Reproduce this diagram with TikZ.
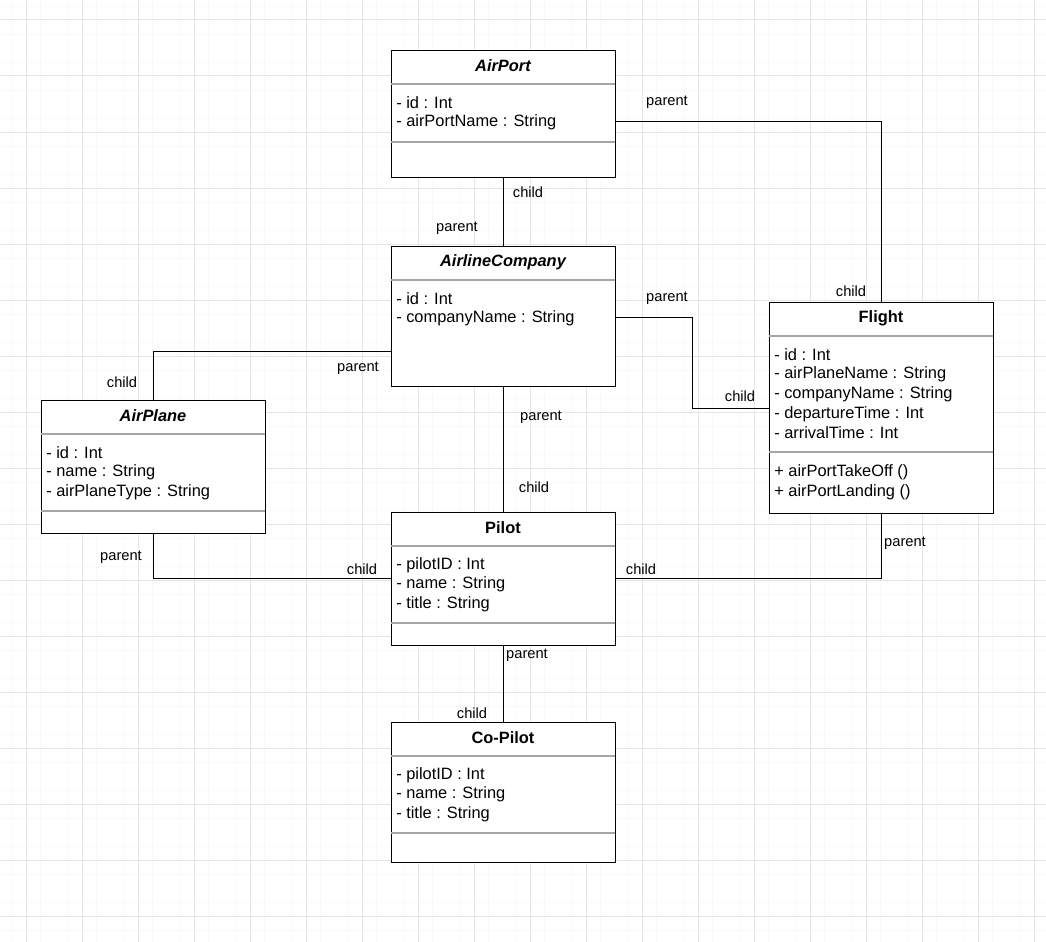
\documentclass[tikz,border=0pt]{standalone}
\usepackage{fontspec}
\setmainfont{Liberation Sans}
\begin{document}
\begin{tikzpicture}[x=0.75pt,y=-0.75pt,
  box/.style={draw=black,line width=0.9pt,fill=white,rectangle,anchor=north west,inner sep=0pt,minimum width=168pt},
  div/.style={draw=gray!70,line width=0.8pt},
  attr/.style={anchor=west,inner sep=0pt,font=\fontsize{12.3pt}{14pt}\selectfont},
  ttl/.style={anchor=center,inner sep=0pt,font=\fontsize{12.3pt}{14pt}\selectfont\bfseries},
  lbl/.style={inner sep=0pt,font=\fontsize{11pt}{13pt}\selectfont},
  con/.style={draw=black,line width=0.75pt}]
\useasboundingbox (0,0) rectangle (1046,942);
\fill[white] (0,0) rectangle (1046,942);
\foreach \x in {12,40,...,1046} \draw[gray!5,line width=0.6pt] (\x,0) -- (\x,942);
\foreach \y in {6,34,...,942} \draw[gray!5,line width=0.6pt] (0,\y) -- (1046,\y);
\foreach \x in {26,82,...,1046} \draw[gray!20,line width=0.75pt] (\x,0) -- (\x,942);
\foreach \y in {20,76,...,942} \draw[gray!20,line width=0.75pt] (0,\y) -- (1046,\y);

% boxes
\node[box,minimum height=95.25pt] (ap) at (391,50) {};
\node[box,minimum height=105pt] (ac) at (391,246) {};
\node[box,minimum height=158.25pt] (fl) at (769,302) {};
\node[box,minimum height=99.75pt] (pl) at (41,400) {};
\node[box,minimum height=99.75pt] (pi) at (391,512) {};
\node[box,minimum height=105pt] (cp) at (391,722) {};

% AirPort
\node[ttl] (apt) at (503,66) {\itshape AirPort};
\draw[div] (391,84) -- (615,84); \draw[div] (391,142) -- (615,142);
\node[attr] (apa1) at (396,103) {- id : Int};
\node[attr] (apa2) at (396,122) {- airPortName : String};
% AirlineCompany
\node[ttl] (act) at (503,262) {\itshape AirlineCompany};
\draw[div] (391,280) -- (615,280);
\node[attr] (aca1) at (396,299) {- id : Int};
\node[attr] (aca2) at (396,318) {- companyName : String};
% Flight
\node[ttl] (flt) at (881,318) {Flight};
\draw[div] (769,336) -- (993,336); \draw[div] (769,452) -- (993,452);
\node[attr] (fla1) at (774,355) {- id : Int};
\node[attr] (fla2) at (774,374) {- airPlaneName : String};
\node[attr] (fla3) at (774,394) {- companyName : String};
\node[attr] (fla4) at (774,414) {- departureTime : Int};
\node[attr] (fla5) at (774,433) {- arrivalTime : Int};
\node[attr] (flm1) at (774,472) {+ airPortTakeOff ()};
\node[attr] (flm2) at (774,492) {+ airPortLanding ()};
% AirPlane
\node[ttl] (plt) at (153,416) {\itshape AirPlane};
\draw[div] (41,434) -- (265,434); \draw[div] (41,511) -- (265,511);
\node[attr] (pla1) at (46,453) {- id : Int};
\node[attr] (pla2) at (46,472) {- name : String};
\node[attr] (pla3) at (46,492) {- airPlaneType : String};
% Pilot
\node[ttl] (pit) at (503,528) {Pilot};
\draw[div] (391,546) -- (615,546); \draw[div] (391,623) -- (615,623);
\node[attr] (pia1) at (396,565) {- pilotID : Int};
\node[attr] (pia2) at (396,584) {- name : String};
\node[attr] (pia3) at (396,604) {- title : String};
% Co-Pilot
\node[ttl] (cpt) at (503,738) {Co-Pilot};
\draw[div] (391,756) -- (615,756); \draw[div] (391,833) -- (615,833);
\node[attr] (cpa1) at (396,775) {- pilotID : Int};
\node[attr] (cpa2) at (396,794) {- name : String};
\node[attr] (cpa3) at (396,814) {- title : String};

% connectors
\draw[con] (ap.south) -- (ac.north);
\draw[con] (ap.east |- 0,121) -| (fl.north);
\draw[con] (ac.east |- 0,317) -- (692,317) |- (fl.west |- 0,408);
\draw[con] (ac.west |- 0,351) -| (pl.north);
\draw[con] (ac.south) -- (pi.north);
\draw[con] (pl.south) |- (pi.west |- 0,578);
\draw[con] (pi.east |- 0,578) -| (fl.south);
\draw[con] (pi.south) -- (cp.north);

% labels
\node[lbl] (l1) at (528,192) {child};
\node[lbl] (l2) at (457,228) {parent};
\node[lbl] (l3) at (667,102) {parent};
\node[lbl] (l4) at (851,291) {child};
\node[lbl] (l5) at (667,298) {parent};
\node[lbl] (l6) at (740,396) {child};
\node[lbl] (l7) at (358,368) {parent};
\node[lbl] (l8) at (122,382) {child};
\node[lbl] (l9) at (541,417) {parent};
\node[lbl] (l10) at (534,487) {child};
\node[lbl] (l11) at (121,557) {parent};
\node[lbl] (l12) at (362,569) {child};
\node[lbl] (l13) at (641,569) {child};
\node[lbl] (l14) at (905,543) {parent};
\node[lbl] (l15) at (527,655) {parent};
\node[lbl] (l16) at (472,713) {child};
\end{tikzpicture}
\end{document}
